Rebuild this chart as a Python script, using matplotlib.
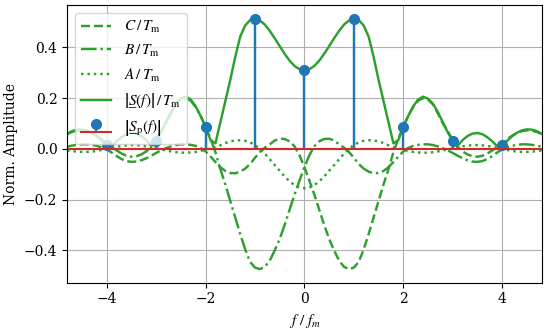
import matplotlib
matplotlib.use("Agg")
import matplotlib.pyplot as plt
import numpy as np

# values for f/fm = 0.0, 0.1, ..., 4.8 (curves are mirror-symmetric)
f_half = np.linspace(0, 4.8, 49)

a_half = [-0.155, -0.152, -0.143, -0.128, -0.109, -0.086, -0.064, -0.041, -0.019, 0.0,
          0.015, 0.026, 0.032, 0.034, 0.033, 0.030, 0.023, 0.014, 0.006, 0.002,
          -0.003, -0.008, -0.012, -0.014, -0.015, -0.015, -0.013, -0.010, -0.006, -0.002,
          0.002, 0.006, 0.010, 0.013, 0.015, 0.015, 0.014, 0.012, 0.008, 0.004,
          0.0, -0.004, -0.008, -0.011, -0.012, -0.012, -0.011, -0.009, -0.006]

# C for f >= 0 (B is the mirror image: B(-f) = C(f))
c_half = [-0.072, -0.125, -0.18, -0.24, -0.30, -0.355, -0.40, -0.44, -0.465, -0.474,
          -0.468, -0.445, -0.395, -0.335, -0.27, -0.205, -0.14, -0.08, -0.013, 0.04,
          0.088, 0.13, 0.165, 0.19, 0.2, 0.195, 0.175, 0.14, 0.1, 0.07,
          0.035, 0.008, -0.01, -0.022, -0.029, -0.031, -0.027, -0.018, -0.006, 0.008,
          0.022, 0.038, 0.052, 0.063, 0.07, 0.073, 0.072, 0.067, 0.058]

# B for f >= 0 (C(-f) = B(f))
b_half = [-0.072, -0.025, 0.01, 0.03, 0.039, 0.04, 0.033, 0.018, 0.005, -0.012,
          -0.035, -0.06, -0.078, -0.09, -0.096, -0.095, -0.087, -0.072, -0.052, -0.03,
          -0.01, 0.004, 0.012, 0.016, 0.018, 0.018, 0.015, 0.01, 0.003, -0.006,
          -0.016, -0.027, -0.037, -0.045, -0.05, -0.051, -0.048, -0.04, -0.028, -0.014,
          -0.002, 0.006, 0.012, 0.016, 0.018, 0.018, 0.016, 0.013, 0.009]

s_half = [0.310, 0.314, 0.327, 0.348, 0.375, 0.405, 0.436, 0.465, 0.490, 0.506,
          0.513, 0.508, 0.486, 0.442, 0.362, 0.272, 0.188, 0.105, 0.022, 0.035,
          0.088, 0.13, 0.168, 0.195, 0.206, 0.198, 0.178, 0.145, 0.105, 0.065,
          0.03, 0.012, 0.035, 0.051, 0.06, 0.063, 0.058, 0.046, 0.03, 0.01,
          0.015, 0.032, 0.05, 0.064, 0.073, 0.077, 0.076, 0.07, 0.06]

k = [-4, -3, -2, -1, 0, 1, 2, 3, 4]
sp = [0.015, 0.03, 0.088, 0.512, 0.31, 0.512, 0.088, 0.03, 0.015]


def mirror(neg_side, pos_side):
    return np.concatenate([np.asarray(neg_side)[:0:-1], pos_side])


f = np.concatenate([-f_half[:0:-1], f_half])
A = mirror(a_half, a_half)
B = mirror(c_half, b_half)
C = mirror(b_half, c_half)
S = mirror(s_half, s_half)

plt.rcParams["font.family"] = ["DejaVu Serif"]
plt.rcParams["mathtext.fontset"] = "stix"
plt.rcParams["font.size"] = 10

fig = plt.figure(figsize=(5.5, 3.34), dpi=100)
ax = fig.add_axes([0.122, 0.154, 0.863, 0.830])

green = "tab:green"
ax.plot(f, C, "--", color=green, lw=1.75, label=r"$C\,/\,T_\mathrm{m}$")
ax.plot(f, B, "-.", color=green, lw=1.75, label=r"$B\,/\,T_\mathrm{m}$")
ax.plot(f, A, ":", color=green, lw=1.75, label=r"$A\,/\,T_\mathrm{m}$")
ax.plot(f, S, "-", color=green, lw=1.75,
        label="$\\left|S\u0332(f)\\right|\\,/\\,T_\\mathrm{m}$")
markers, stems, base = ax.stem(k, sp, label="$\\left|S\u0332_\\mathrm{p}(f)\\right|$")
markers.set_markersize(7)
stems.set_linewidth(1.75)
base.set_color("tab:red")
base.set_xdata([-4.8, 4.8])

ax.set_xlim(-4.8, 4.8)
ax.set_ylim(-0.527, 0.566)
ax.set_xticks([-4, -2, 0, 2, 4])
ax.set_yticks([-0.4, -0.2, 0.0, 0.2, 0.4])
ax.grid(True, color="#b0b0b0")
ax.set_axisbelow(True)
ax.set_xlabel(r"$f\ /\ f_m$", fontsize=11)
ax.set_ylabel("Norm. Amplitude")
ax.legend(loc="upper left", prop={"size": 11})

fig.savefig("out.png")
